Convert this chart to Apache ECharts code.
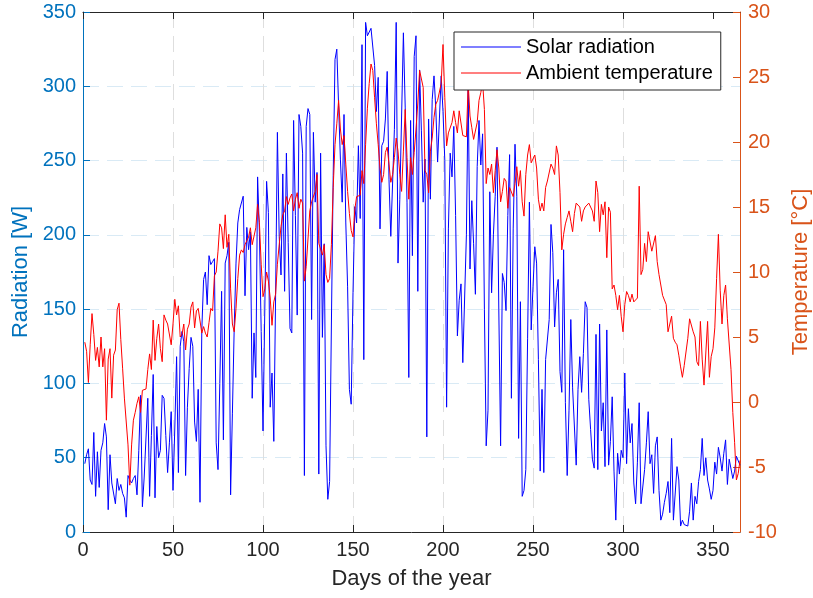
<!DOCTYPE html>
<html>
<head>
<meta charset="utf-8">
<script src="https://cdn.jsdelivr.net/npm/echarts@6/dist/echarts.min.js"></script>
<style>
html,body{margin:0;padding:0;background:#fff;}
#main{width:813px;height:598px;}
</style>
</head>
<body>
<div id="main"></div>
<script>
// ---- Data ----
const seriesNames = ['Solar radiation', 'Ambient temperature'];
const xTicks = [0, 50, 100, 150, 200, 250, 300, 350];
const leftTicks = [0, 50, 100, 150, 200, 250, 300, 350];
const rightTicks = [-10, -5, 0, 5, 10, 15, 20, 25, 30];

// Solar radiation [W], days 1..365
const solar = [
46,52,56,35,32,67,24,54,30,55,
60,73,64,15,52,33,32,19,36,28,
32,26,23,10,38,35,33,36,38,25,
55,92,17,37,37,90,24,65,106,23,
71,50,55,92,90,65,40,60,81,28,
70,118,40,125,135,128,38,84,110,131,
125,74,61,96,20,136,170,175,153,186,
180,182,184,60,42,100,162,62,181,186,
195,25,80,137,181,208,217,217,226,159,
205,190,202,90,134,104,239,202,135,68,
150,236,215,84,107,61,159,269,199,173,
241,162,255,195,137,134,277,213,146,281,
273,255,38,273,285,281,143,269,222,242,
39,255,131,194,58,22,34,140,240,318,
325,287,251,222,281,208,165,96,86,161,
219,208,260,211,328,116,343,334,334,339,
339,314,283,306,204,260,263,278,310,237,
199,199,271,343,181,224,224,336,286,222,
104,277,186,320,334,162,311,270,222,251,
64,278,224,291,307,285,249,278,307,283,
250,84,204,255,239,273,213,132,156,167,
114,115,200,300,177,223,194,160,246,277,
247,268,150,58,82,229,161,200,226,259,
150,58,174,168,149,213,254,90,204,261,
226,63,155,24,28,42,130,222,136,165,
192,181,116,41,96,40,116,116,143,207,
188,138,161,170,108,94,190,87,38,82,
143,97,97,45,96,118,94,120,155,151,
89,69,49,43,133,42,140,68,87,44,
136,45,61,91,41,8,53,39,55,50,
107,46,83,60,73,33,19,47,87,19,
19,42,60,81,46,52,26,58,64,28,
8,12,20,26,34,13,63,8,8,44,
35,4,8,5,4,4,14,33,8,24,
19,34,42,63,38,50,35,29,22,28,
47,39,57,50,41,53,62,32,49,49,
36,41,51,50,45
];

// Ambient temperature [°C], days 1..365
const temperature = [
4.6,3.9,1.5,4.4,6.8,5.2,3.2,4.2,2.7,5.0,
2.7,4.1,-1.4,3.3,4.1,0.3,3.6,4.0,7.1,7.6,
4.8,2.6,0.3,0.2,-3.3,-6.4,-3.3,-1.4,-0.8,-0.1,
0.4,-0.8,0.9,0.8,1.0,2.5,3.7,2.5,6.3,3.2,
4.9,6.0,4.1,3.1,6.7,6.3,6.0,6.0,4.4,6.0,
7.9,6.7,7.4,5.0,5.2,6.0,4.0,5.6,6.0,7.3,
7.7,5.7,7.0,7.2,7.2,5.3,5.8,5.3,5.0,6.1,
7.2,7.0,9.7,10.0,11.6,13.7,13.4,11.8,14.4,11.9,
12.9,8.7,6.0,5.4,7.2,9.5,11.3,11.7,11.5,12.1,
12.4,12.7,13.4,12.1,12.1,13.4,15.2,13.8,10.6,8.1,
8.7,10.0,9.3,8.0,5.9,7.7,8.3,10.6,12.1,13.5,
14.4,14.7,15.8,15.2,15.7,16.0,14.7,15.6,16.1,14.9,
15.6,15.3,9.3,10.4,10.3,14.7,15.4,15.4,16.2,17.5,
12.2,12.1,11.3,12.1,9.8,9.2,9.5,12.1,16.5,19.8,
21.4,23.2,21.0,19.8,20.5,18.3,16.2,14.5,13.2,12.7,
14.8,15.8,15.9,15.9,17.8,16.8,19.8,22.6,24.5,26.0,
25.5,23.4,21.4,19.8,18.0,16.9,17.5,19.2,19.6,18.3,
16.9,17.5,18.8,20.3,19.3,17.5,16.2,19.3,22.5,18.8,
15.6,18.8,17.5,19.2,21.0,23.0,25.5,25.5,24.2,17.8,
17.5,16.1,19.3,20.3,21.9,22.9,23.2,23.3,24.5,27.5,
23.4,19.7,20.7,20.7,21.5,22.4,21.5,20.7,22.4,22.3,
20.5,20.5,20.4,24.5,22.0,21.1,20.2,20.3,21.5,23.2,
23.8,24.6,22.5,16.8,18.0,17.5,18.3,16.1,17.8,19.4,
18.0,15.4,16.2,17.2,17.0,14.9,16.5,16.6,15.8,16.8,
18.1,16.6,17.8,15.4,14.3,17.5,19.0,19.8,18.4,18.5,
19.0,18.0,15.6,14.7,15.3,14.7,16.5,17.0,16.9,18.3,
18.0,17.5,19.7,19.0,16.1,11.7,12.9,13.7,14.2,14.7,
13.9,13.1,14.5,15.3,15.2,15.0,13.9,14.7,15.0,15.1,
15.3,15.2,14.7,13.9,17.0,16.1,13.1,15.2,14.4,15.4,
11.1,15.0,14.6,8.7,9.0,8.2,7.1,8.2,6.6,5.4,
7.5,8.5,8.2,7.7,8.3,7.7,7.7,8.0,16.6,9.8,
10.2,12.2,10.8,13.1,13.1,11.6,11.7,12.8,10.8,9.8,
9.0,8.2,8.1,7.5,5.4,6.0,6.6,4.9,4.6,4.4,
3.6,2.7,1.9,2.8,2.7,4.9,6.4,6.3,5.4,5.0,
3.1,2.8,6.2,3.3,1.3,1.2,6.2,1.9,3.5,4.1,
5.7,9.5,12.9,8.6,6.0,8.2,9.0,6.4,6.4,2.5,
-0.8,-3.1,-6.0,-5.5,-4.5
];

// ---- Chart ----
const FONT = '"Liberation Sans", Arial, Helvetica, sans-serif';
const AX = '#262626';
const BLUE_AX = '#0072BD';
const ORANGE_AX = '#D95319';

const solarPts = solar.map((v, i) => [i + 1, v]);
const tempPts = temperature.map((v, i) => [i + 1, v]);

const chart = echarts.init(document.getElementById('main'), null, {renderer: 'canvas'});
chart.setOption({
  animation: false,
  backgroundColor: '#ffffff',
  grid: {left: 83, right: 73, top: 12, bottom: 66, containLabel: false, outerBoundsMode: 'none'},
  legend: {
    orient: 'vertical',
    left: 454, top: 32,
    padding: [5, 8, 7, 7],
    itemGap: 6,
    itemWidth: 60,
    itemHeight: 1,
    icon: 'rect',
    backgroundColor: '#ffffff',
    borderColor: AX,
    borderWidth: 1,
    textStyle: {fontSize: 20, color: '#000000', fontFamily: FONT, lineHeight: 20},
    data: seriesNames
  },
  xAxis: [
    {
      type: 'value', min: 0, max: 365, position: 'bottom',
      name: 'Days of the year', nameLocation: 'middle', nameGap: 36,
      nameTextStyle: {color: AX, fontSize: 22, fontFamily: FONT},
      axisLine: {show: true, onZero: false, lineStyle: {color: AX, width: 1}},
      axisTick: {show: true, inside: true, length: 7, customValues: xTicks, lineStyle: {color: AX}},
      axisLabel: {color: AX, fontSize: 20, margin: 8, fontFamily: FONT, customValues: xTicks},
      splitLine: {show: true, showMinLine: false, showMaxLine: false,
        lineStyle: {color: '#DEDEDE', width: 1, type: [16, 8]}}
    },
    {
      type: 'value', min: 0, max: 365, position: 'top',
      axisLine: {show: true, onZero: false, lineStyle: {color: AX, width: 1}},
      axisTick: {show: true, inside: true, length: 7, customValues: xTicks, lineStyle: {color: AX}},
      axisLabel: {show: false},
      splitLine: {show: false}
    }
  ],
  yAxis: [
    {
      type: 'value', min: 0, max: 350, interval: 50, position: 'left',
      name: 'Radiation [W]', nameLocation: 'middle', nameRotate: 90, nameGap: 50,
      nameTextStyle: {color: BLUE_AX, fontSize: 22, fontFamily: FONT},
      axisLine: {show: true, onZero: false, lineStyle: {color: BLUE_AX, width: 1}},
      axisTick: {show: true, inside: true, length: 7, lineStyle: {color: BLUE_AX}},
      axisLabel: {color: BLUE_AX, fontSize: 20, margin: 7, fontFamily: FONT},
      splitLine: {show: true, showMinLine: false, showMaxLine: false,
        lineStyle: {color: '#D9EAF5', width: 1, type: [16, 8]}}
    },
    {
      type: 'value', min: -10, max: 30, interval: 5, position: 'right',
      name: 'Temperature [°C]', nameLocation: 'middle', nameRotate: 90, nameGap: 50,
      nameTextStyle: {color: ORANGE_AX, fontSize: 22, fontFamily: FONT},
      axisLine: {show: true, onZero: false, lineStyle: {color: ORANGE_AX, width: 1}},
      axisTick: {show: true, inside: true, length: 7, lineStyle: {color: ORANGE_AX}},
      axisLabel: {color: ORANGE_AX, fontSize: 20, margin: 8, fontFamily: FONT},
      splitLine: {show: false}
    }
  ],
  series: [
    {
      name: seriesNames[0], type: 'line', xAxisIndex: 0, yAxisIndex: 0,
      data: solarPts, showSymbol: false, symbol: 'none',
      lineStyle: {color: '#0000FF', width: 1}, itemStyle: {color: '#0000FF'}, z: 2
    },
    {
      name: seriesNames[1], type: 'line', xAxisIndex: 0, yAxisIndex: 1,
      data: tempPts, showSymbol: false, symbol: 'none',
      lineStyle: {color: '#FF0000', width: 1}, itemStyle: {color: '#FF0000'}, z: 3
    }
  ]
});
</script>
</body>
</html>
